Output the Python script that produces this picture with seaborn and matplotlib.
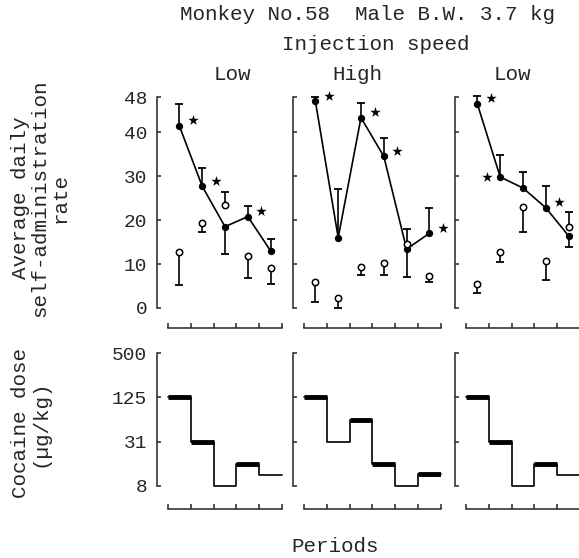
import numpy as np
import pandas as pd
import matplotlib
matplotlib.use("Agg")
import matplotlib.pyplot as plt
import seaborn as sns
from matplotlib.ticker import NullLocator

# =============================================================================
# Data
# =============================================================================

panel_titles = ["Low", "High", "Low"]

# filled circles: rate during the test periods, with one-sided SE tips
filled_low1 = [41.4, 27.7, 18.5, 20.8, 13.0]
filled_low1_tip = [46.3, 31.9, 12.3, 23.2, 15.8]
filled_high = [47.0, 16.0, 43.3, 34.5, 13.4, 17.0]
filled_high_tip = [48.0, 27.0, 46.7, 38.6, 7.0, 22.7]
filled_low2 = [46.4, 29.8, 27.3, 22.8, 16.4]
filled_low2_tip = [48.2, 34.8, 31.0, 27.7, 13.9]

# open circles: saline / baseline
open_low1 = [12.8, 19.4, 23.4, 11.8, 9.2]
open_low1_tip = [5.2, 17.3, 26.4, 6.9, 5.5]
open_high = [5.9, 2.3, 9.4, 10.3, 14.5, 7.3]
open_high_tip = [1.4, 0.0, 7.5, 7.5, 18.0, 6.0]
open_low2 = [5.5, 12.8, 23.0, 10.7, 18.5]
open_low2_tip = [3.4, 10.5, 17.3, 6.4, 21.9]

# periods marked with an asterisk, and which side the asterisk sits on
star_low1 = [0, 1, 3]
star_low1_side = ["r", "r", "r"]
star_high = [0, 2, 3, 5]
star_high_side = ["r", "r", "r", "r"]
star_low2 = [0, 1, 3]
star_low2_side = ["r", "l", "r"]

# cocaine dose per period (ug/kg)
dose_low1 = [125, 31.25, 7.8125, 15.6, 11.0]
dose_high = [125, 31.25, 62.5, 15.6, 7.8125, 11.3]
dose_low2 = [125, 31.25, 7.8125, 15.6, 11.0]

rate_ticks = [0, 10, 20, 30, 40, 48]
dose_ticks = [7.8125, 31.25, 125, 500]
dose_ticklabels = ["8", "31", "125", "500"]

panels = [
    (filled_low1, filled_low1_tip, open_low1, open_low1_tip, star_low1, star_low1_side, dose_low1),
    (filled_high, filled_high_tip, open_high, open_high_tip, star_high, star_high_side, dose_high),
    (filled_low2, filled_low2_tip, open_low2, open_low2_tip, star_low2, star_low2_side, dose_low2),
]

# =============================================================================
# Style
# =============================================================================

sns.set_theme(style="ticks")
plt.rcParams["font.family"] = ["Liberation Mono", "DejaVu Sans Mono"]
plt.rcParams.update({
    "axes.linewidth": 1.1,
    "xtick.direction": "in",
    "ytick.direction": "in",
    "xtick.major.size": 3.5,
    "ytick.major.size": 3,
    "xtick.major.width": 1.1,
    "ytick.major.width": 1.1,
    "font.size": 14,
    "ytick.labelsize": 14,
})

W, H = 579, 558
fig = plt.figure(figsize=(W / 100, H / 100), dpi=100)

col_left = [168, 304, 466]
period_px = 22.8


def fx(px):
    return px / W


def fy(px_top):
    return 1 - px_top / H


# =============================================================================
# Panels
# =============================================================================

for i, (fv, ftip, ov, otip, stars, sides, dose) in enumerate(panels):
    n = len(fv)
    x = np.arange(n) + 0.5
    width = n * period_px

    # ---- top: self-administration rate ----
    ax = fig.add_axes([fx(col_left[i]), fy(308), fx(width), (308 - 97) / H])
    df = pd.DataFrame({"period": x, "filled": fv, "ftip": ftip, "open": ov, "otip": otip})

    ax.vlines(df["period"], df["filled"], df["ftip"], color="black", lw=1.2, clip_on=False)
    ax.vlines(df["period"], df["open"], df["otip"], color="black", lw=1.2, clip_on=False)
    ax.plot(df["period"], df["ftip"], ls="none", marker="_", ms=6, mew=1.3, color="black", clip_on=False)
    ax.plot(df["period"], df["otip"], ls="none", marker="_", ms=6, mew=1.3, color="black", clip_on=False)

    sns.lineplot(data=df, x="period", y="filled", color="black", lw=1.2,
                 marker="o", markersize=4.5, markeredgecolor="black", ax=ax, clip_on=False)
    sns.scatterplot(data=df, x="period", y="open", facecolor="white", edgecolor="black",
                    linewidth=1.1, s=21, ax=ax, zorder=5, clip_on=False)

    sx = [x[k] + (0.6 if s == "r" else -0.6) for k, s in zip(stars, sides)]
    sy = [fv[k] + (1.3 if s == "r" else 0.0) for k, s in zip(stars, sides)]
    ax.scatter(sx, sy, marker="*", s=62, color="black", linewidths=0, clip_on=False)

    ax.set_xlim(0, n)
    ax.set_ylim(0, 48)
    ax.set_xticks(range(n + 1))
    ax.set_yticks(rate_ticks)
    ax.set_xticklabels([])
    ax.set_xlabel("")
    ax.set_ylabel("")
    if i > 0:
        ax.set_yticklabels([])
    ax.tick_params(axis="y", pad=7)
    sns.despine(ax=ax, offset={"left": 8, "bottom": 14.5}, trim=True)

    # ---- bottom: cocaine dose ----
    bx = fig.add_axes([fx(col_left[i]), fy(486), fx(width), (486 - 353) / H])
    steps = pd.DataFrame({"edge": np.arange(n + 1), "dose": dose + [dose[-1]]})
    sns.lineplot(data=steps, x="edge", y="dose", drawstyle="steps-post",
                 color="black", lw=1.2, ax=bx, clip_on=False)
    for k in stars:
        bx.hlines(dose[k], k, k + 1, color="black", lw=3.5, capstyle="butt")

    bx.set_yscale("log")
    bx.set_xlim(0, n)
    bx.set_ylim(dose_ticks[0], dose_ticks[-1])
    bx.set_xticks(range(n + 1))
    bx.set_yticks(dose_ticks)
    bx.yaxis.set_minor_locator(NullLocator())
    bx.set_xticklabels([])
    bx.set_xlabel("")
    bx.set_ylabel("")
    if i == 0:
        bx.set_yticklabels(dose_ticklabels)
    else:
        bx.set_yticklabels([])
    bx.tick_params(axis="y", pad=7)
    sns.despine(ax=bx, offset={"left": 8, "bottom": 16.5}, trim=True)

# =============================================================================
# Text
# =============================================================================

fig.text(fx(368), fy(15), "Monkey No.58  Male B.W. 3.7 kg", ha="center", va="center", fontsize=15)
fig.text(fx(376), fy(45), "Injection speed", ha="center", va="center", fontsize=15)
for title, cx in zip(panel_titles, [232, 357, 512]):
    fig.text(fx(cx), fy(75), title, ha="center", va="center", fontsize=15)

fig.text(fx(40), fy(198), "Average daily\nself-administration\nrate", rotation=90,
         ha="center", va="center", fontsize=15, linespacing=1.05, multialignment="center")
fig.text(fx(30), fy(423), "Cocaine dose\n(\u00b5g/kg)", rotation=90,
         ha="center", va="center", fontsize=15, linespacing=1.05, multialignment="center")
fig.text(fx(335), fy(546), "Periods", ha="center", va="center", fontsize=15)

fig.savefig("out.png", dpi=100)
